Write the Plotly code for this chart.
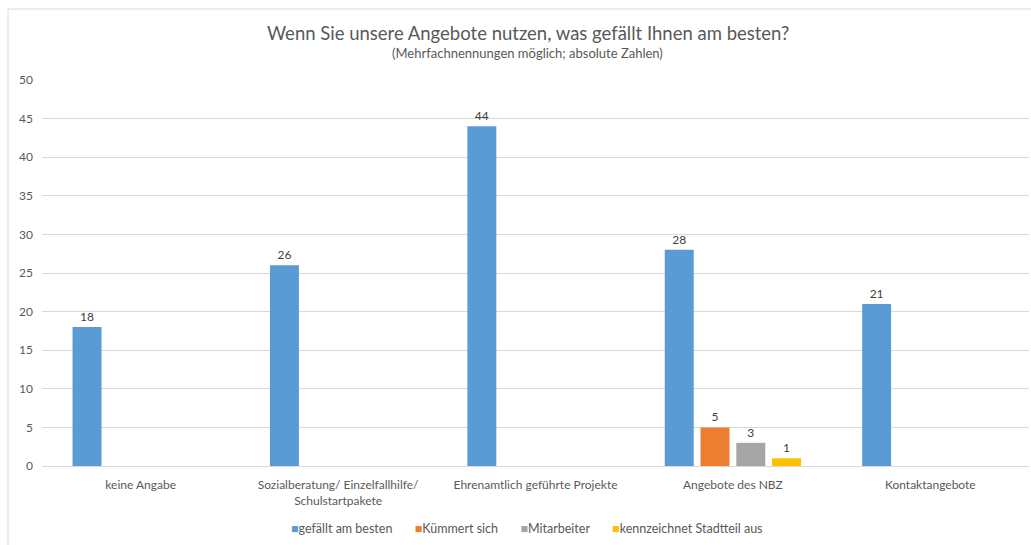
import plotly.graph_objects as go

categories = [
    "keine Angabe",
    "Sozialberatung/ Einzelfallhilfe/<br>Schulstartpakete",
    "Ehrenamtlich geführte Projekte",
    "Angebote des NBZ",
    "Kontaktangebote",
]
series_names = ["gefällt am besten", "Kümmert sich", "Mitarbeiter", "kennzeichnet Stadtteil aus"]
gefaellt = [18, 26, 44, 28, 21]
kuemmert = [None, None, None, 5, None]
mitarbeiter = [None, None, None, 3, None]
stadtteil = [None, None, None, 1, None]
colors = ["#5B9BD5", "#ED7D31", "#A5A5A5", "#FFC000"]
y_ticks = [0, 5, 10, 15, 20, 25, 30, 35, 40, 45, 50]

FONT = "Lato, Open Sans, sans-serif"
TXT = "#595959"

# plot-area geometry in pixels (used to place text outside the axes)
W, H = 1031, 545
M_L, M_R, M_T, M_B = 42, 2, 80, 79
PH = H - M_T - M_B


def py(px_y):
    return (H - M_B - px_y) / PH


fig = go.Figure()
for name, vals, col in zip(series_names, [gefaellt, kuemmert, mitarbeiter, stadtteil], colors):
    fig.add_trace(go.Bar(
        x=categories, y=vals, name=name, marker_color=col, marker_line_width=0,
        text=[("" if v is None else str(v)) for v in vals],
        textposition="outside", cliponaxis=False,
        textfont=dict(family=FONT, size=12, color="#404040"),
        showlegend=False,
    ))

fig.update_layout(
    width=W, height=H,
    margin=dict(l=M_L, r=M_R, t=M_T, b=M_B),
    paper_bgcolor="white", plot_bgcolor="white",
    barmode="group", bargap=0.275, bargroupgap=0.19,
    font=dict(family=FONT, color=TXT, size=12),
)
fig.update_xaxes(showgrid=False, showline=True, linecolor="#d9d9d9", linewidth=1,
                 ticks="", ticklen=0, tickfont=dict(family=FONT, size=12, color=TXT),
                 ticklabelstandoff=8)
fig.update_yaxes(range=[0, 50], tickvals=y_ticks, showgrid=True, gridcolor="#d9d9d9",
                 gridwidth=1, zeroline=False, showline=False, ticks="", ticklen=0,
                 tickfont=dict(family=FONT, size=12, color=TXT), ticklabelstandoff=8)

# title and subtitle
fig.add_annotation(text="Wenn Sie unsere Angebote nutzen, was gefällt Ihnen am besten?",
                   xref="paper", yref="paper", x=0.492, y=py(33), xanchor="center",
                   yanchor="middle", showarrow=False,
                   font=dict(family=FONT, size=18.5, color=TXT))
fig.add_annotation(text="(Mehrfachnennungen möglich; absolute Zahlen)",
                   xref="paper", yref="paper", x=0.492, y=py(53), xanchor="center",
                   yanchor="middle", showarrow=False,
                   font=dict(family=FONT, size=13, color=TXT))

# legend row: coloured square followed by series name
legend_html = "&nbsp;&nbsp;&nbsp;&nbsp;&nbsp;&nbsp;&nbsp;".join(
    f"<span style='color:{c}'>■</span>{n}" for n, c in zip(series_names, colors)
)
fig.add_annotation(text=legend_html, xref="paper", yref="paper", x=0.491, y=py(528),
                   xanchor="center", yanchor="middle", showarrow=False,
                   font=dict(family=FONT, size=12.5, color=TXT))

# outer chart frame
fig.add_shape(type="rect", xref="paper", yref="paper",
              x0=(8 - M_L) / (W - M_L - M_R), x1=1.05, y0=-0.3, y1=py(9),
              line=dict(color="#d9d9d9", width=1), fillcolor="rgba(0,0,0,0)", layer="below")

fig.write_html("out.html")
